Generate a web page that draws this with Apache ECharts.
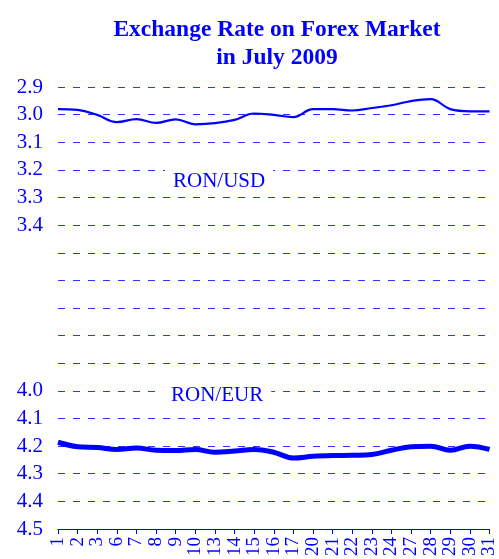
<!DOCTYPE html>
<html>
<head>
<meta charset="utf-8">
<script src="https://cdn.jsdelivr.net/npm/echarts@6/dist/echarts.min.js"></script>
<style>html,body{margin:0;padding:0;background:#fff;}#chart{width:499px;height:559px;}</style>
</head>
<body>
<div id="chart"></div>
<script>
const days = ['1','2','3','6','7','8','9','10','13','14','15','16','17','20','21','22','23','24','27','28','29','30','31'];
const ronUsd = [2.980,2.983,3.001,3.027,3.016,3.030,3.017,3.035,3.031,3.019,2.996,3.001,3.009,2.980,2.980,2.985,2.976,2.966,2.951,2.944,2.980,2.988,2.988];
const ronEur = [4.186,4.202,4.205,4.212,4.207,4.215,4.216,4.212,4.222,4.218,4.212,4.222,4.243,4.237,4.234,4.233,4.230,4.215,4.202,4.200,4.215,4.200,4.212];
const yTickLabels = ['2.9','3.0','3.1','3.2','3.3','3.4','4.0','4.1','4.2','4.3','4.4','4.5'];

const chart = echarts.init(document.getElementById('chart'), null, {renderer:'canvas'});
const serif = '"Liberation Serif", "DejaVu Serif", serif';
chart.setOption({
  animation: false,
  backgroundColor: '#fff',
  title: {
    text: 'Exchange Rate on Forex Market\nin July 2009',
    left: 272, top: 11, textAlign: 'center',
    textStyle: {fontFamily: serif, fontWeight: 'bold', fontSize: 23.5, color: '#0000ff', lineHeight: 28}
  },
  grid: {left: 58, right: 7, top: 87, bottom: 28, containLabel: false},
  xAxis: {
    type: 'category', data: days, boundaryGap: false,
    axisLine: {lineStyle: {color: '#0000ff', width: 1}},
    axisTick: {show: true, length: 5, interval: 0, lineStyle: {color: '#0000ff'}},
    axisLabel: {interval: 0, rotate: 90, margin: 8, fontFamily: serif, fontSize: 19, color: '#0000ff'},
    splitLine: {show: false}
  },
  yAxis: {
    type: 'value', inverse: true, min: 2.9, max: 4.5, interval: 0.1,
    axisLine: {show: false}, axisTick: {show: false},
    axisLabel: {
      margin: 15, fontFamily: serif, fontSize: 21, color: '#0000ff',
      formatter: v => { const s = v.toFixed(1); return yTickLabels.includes(s) ? s : ''; }
    },
    splitLine: {show: true, lineStyle: {color: '#3333ff', type: [7, 8], width: 1}}
  },
  series: [
    {name: 'RON/USD', type: 'line', data: ronUsd, smooth: 0.4, symbol: 'none',
     lineStyle: {color: '#0000ff', width: 2.2}},
    {name: 'RON/EUR', type: 'line', data: ronEur, smooth: 0.4, symbol: 'none',
     lineStyle: {color: '#0000ff', width: 5}}
  ],
  graphic: [
    {type: 'text', left: 165, top: 166, z: 100,
     style: {text: 'RON/USD', fontFamily: serif, fontSize: 21, fill: '#0000ff', backgroundColor: '#fff', padding: [5, 8, 2, 8]}},
    {type: 'text', left: 163, top: 382, z: 100,
     style: {text: 'RON/EUR', fontFamily: serif, fontSize: 21, fill: '#0000ff', backgroundColor: '#fff', padding: [3, 8, 2, 8]}}
  ]
});
</script>
</body>
</html>
